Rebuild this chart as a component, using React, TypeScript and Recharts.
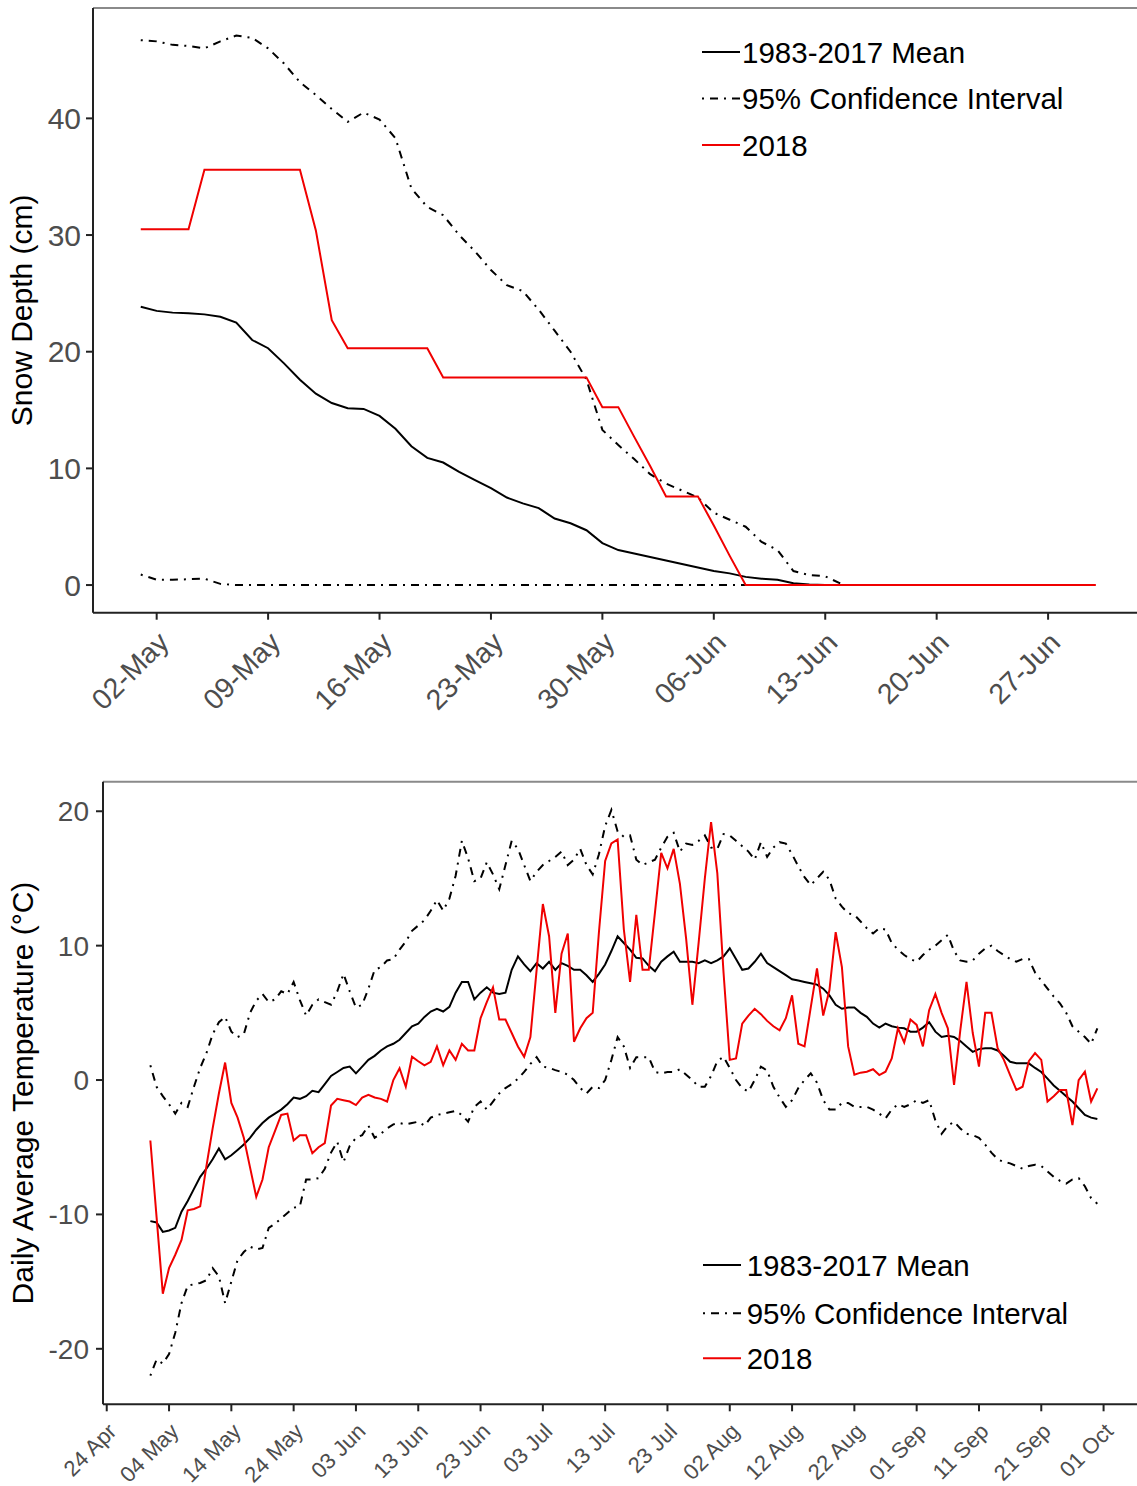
import React from 'react';
import { LineChart, Line, XAxis, YAxis, Legend, ReferenceLine } from 'recharts';

const FONT = 'Arial, "Liberation Sans", Helvetica, sans-serif';
const TICK_COLOR = '#4d4d4d';
const AXIS_COLOR = '#222222';
const BORDER_COLOR = '#8a8a8a';
const RED = '#f00000';
const DASH = '2 6 8 6';

// ---------- Top panel: snow depth (days since 01-May) ----------
const snowTickDays = [1, 8, 15, 22, 29, 36, 43, 50, 57];
const snowTickLabels = ['02-May', '09-May', '16-May', '23-May', '30-May', '06-Jun', '13-Jun', '20-Jun', '27-Jun'];
const snowYTicks = [0, 10, 20, 30, 40];
const snowXDomain = [-3, 63];
const snowYDomain = [-2.37, 49.46];

const snowMean = [23.85, 23.5, 23.35, 23.3, 23.2, 23.0, 22.5, 21.0, 20.3, 19.0, 17.6, 16.4, 15.6, 15.15, 15.1, 14.5, 13.4, 11.9, 10.9, 10.5, 9.7, 9.0, 8.3, 7.5, 7.0, 6.6, 5.7, 5.3, 4.7, 3.6, 3.0, 2.7, 2.4, 2.1, 1.8, 1.5, 1.2, 1.0, 0.7, 0.55, 0.45, 0.15, 0.05, 0, 0];
const snowUpper = [46.7, 46.6, 46.3, 46.2, 46.0, 46.6, 47.1, 46.9, 46.0, 44.7, 43.1, 42.0, 40.8, 39.7, 40.5, 39.9, 38.3, 34.0, 32.4, 31.7, 30.0, 28.6, 27.0, 25.7, 25.2, 23.6, 21.8, 20.0, 17.6, 13.3, 12.0, 10.8, 9.5, 8.7, 8.1, 7.5, 6.2, 5.6, 5.0, 3.7, 3.0, 1.2, 0.86, 0.75, 0.1];
const snowLower = [0.9, 0.45, 0.45, 0.5, 0.55, 0.1, 0, 0, 0, 0, 0, 0, 0, 0, 0, 0, 0, 0, 0, 0, 0, 0, 0, 0, 0, 0, 0, 0, 0, 0, 0, 0, 0, 0, 0, 0, 0, 0, 0, 0, 0, 0, 0, 0, 0];
const snow2018 = [30.5, 30.5, 30.5, 30.5, 35.6, 35.6, 35.6, 35.6, 35.6, 35.6, 35.6, 30.4, 22.7, 20.3, 20.3, 20.3, 20.3, 20.3, 20.3, 17.8, 17.8, 17.8, 17.8, 17.8, 17.8, 17.8, 17.8, 17.8, 17.8, 15.25, 15.25, 12.7, 10.2, 7.6, 7.6, 7.6, 5.1, 2.5, 0, 0, 0, 0, 0, 0, 0, 0, 0, 0, 0, 0, 0, 0, 0, 0, 0, 0, 0, 0, 0, 0, 0];

// ---------- Bottom panel: daily temperature (days since 01-May) ----------
const tempTickDays = [-7, 3, 13, 23, 33, 43, 53, 63, 73, 83, 93, 103, 113, 123, 133, 143, 153];
const tempTickLabels = ['24 Apr', '04 May', '14 May', '24 May', '03 Jun', '13 Jun', '23 Jun', '03 Jul', '13 Jul', '23 Jul', '02 Aug', '12 Aug', '22 Aug', '01 Sep', '11 Sep', '21 Sep', '01 Oct'];
const tempYTicks = [-20, -10, 0, 10, 20];
const tempXDomain = [-7.6, 159.6];
const tempYDomain = [-24.13, 22.2];

const tempMean = [
  -10.5, -10.6, -11.3, -11.2, -11.0, -9.8, -9.0, -8.1, -7.2, -6.6,
  -5.9, -5.1, -5.9, -5.6, -5.2, -4.8, -4.3, -3.7, -3.2, -2.8,
  -2.5, -2.2, -1.8, -1.3, -1.4, -1.2, -0.8, -0.9, -0.3, 0.3,
  0.6, 0.9, 1.0, 0.5, 1.0, 1.5, 1.8, 2.2, 2.5, 2.7,
  3.0, 3.5, 4.0, 4.2, 4.7, 5.1, 5.3, 5.1, 5.45, 6.5,
  7.3, 7.3, 6.0, 6.5, 6.9, 6.5, 6.4, 6.5, 8.2, 9.2,
  8.6, 8.1, 8.7, 8.3, 8.8, 8.2, 8.7, 8.5, 8.2, 8.2,
  7.8, 7.3, 7.9, 8.6, 9.6, 10.7, 10.2, 9.7, 9.1, 9.05,
  8.5, 8.1, 8.8, 9.2, 9.55, 8.8, 8.8, 8.8, 8.7, 8.9,
  8.7, 8.9, 9.2, 9.8, 9.0, 8.2, 8.3, 8.8, 9.4, 8.7,
  8.4, 8.1, 7.8, 7.5, 7.4, 7.3, 7.2, 7.1, 6.8, 6.3,
  5.6, 5.3, 5.4, 5.4, 5.0, 4.7, 4.2, 3.9, 4.2, 4.0,
  3.9, 3.85, 3.6, 3.6, 3.9, 4.3, 3.6, 3.2, 3.3, 3.2,
  2.9, 2.5, 2.1, 2.3, 2.36, 2.36, 2.2, 1.8, 1.36, 1.25,
  1.24, 1.24, 0.9, 0.6, 0.1, -0.4, -0.8, -1.2, -1.6, -2.1,
  -2.6, -2.8, -2.9,
];
const tempUpper = [
  1.1, -0.5, -1.2, -1.8, -2.5, -1.7, -2.0, -0.5, 0.9, 2.0,
  3.4, 4.3, 4.7, 3.6, 3.2, 3.4, 5.0, 5.9, 6.4, 5.8,
  6.0, 6.6, 6.4, 7.3, 5.95, 4.8, 5.6, 6.0, 5.8, 5.6,
  6.6, 7.9, 6.6, 5.4, 5.6, 6.8, 8.2, 8.4, 8.9, 9.0,
  9.7, 10.3, 11.1, 11.5, 11.9, 12.6, 13.4, 12.6, 13.5, 15.2,
  17.8, 16.5, 14.8, 15.0, 16.2, 15.3, 14.2, 16.0, 17.8, 17.2,
  16.0, 14.8, 15.5, 16.0, 16.3, 16.6, 17.0, 16.0, 16.4, 17.2,
  16.0, 15.3, 16.8, 18.9, 20.1, 18.5, 18.1, 18.2, 16.4, 16.0,
  16.2, 16.4, 17.3, 18.1, 18.4, 17.0, 17.6, 17.5, 17.8, 18.2,
  17.3, 17.2, 18.3, 18.2, 17.8, 17.4, 17.0, 16.4, 17.7, 16.6,
  17.3, 17.7, 17.6, 16.8, 15.9, 15.1, 14.5, 15.0, 15.5, 14.9,
  13.5, 12.9, 12.4, 12.3, 11.8, 11.3, 10.9, 11.3, 11.2, 10.2,
  9.7, 9.3, 9.0, 8.8, 9.3, 9.7, 10.0, 10.4, 10.8, 9.6,
  8.9, 8.8, 8.9, 9.4, 9.8, 10.0, 9.6, 9.3, 9.0, 8.8,
  9.0, 9.0, 8.0, 7.4, 6.8, 6.2, 5.7, 5.0, 4.0, 3.6,
  3.2, 2.7, 3.85,
];
const tempLower = [
  -22.0, -20.8, -21.1, -20.4, -18.8, -16.6, -15.3, -15.2, -15.1, -14.9,
  -14.0, -14.6, -16.6, -15.0, -13.4, -12.8, -12.4, -12.6, -12.5, -11.0,
  -10.7, -10.3, -9.9, -9.5, -9.4, -7.4, -7.4, -7.3, -6.6, -5.4,
  -4.6, -6.1, -4.9, -4.3, -4.1, -3.4, -4.3, -4.0, -3.6, -3.3,
  -3.2, -3.3, -3.2, -3.1, -3.4, -2.8, -2.6, -2.5, -2.4, -2.3,
  -2.6, -3.1, -2.0, -1.6, -2.2, -1.6, -1.0, -0.6, -0.3, 0.1,
  0.6, 1.2, 1.7, 1.0, 0.9, 0.74, 0.6, 0.4, 0.0, -0.6,
  -1.0, -0.5, -0.6, 0.0, 1.5, 3.2, 2.5, 0.9, 1.7, 1.7,
  1.7, 0.6, 0.5, 0.6, 0.6, 0.8, 0.4, 0.0, -0.5, -0.5,
  0.3, 1.4, 1.73, 0.9, 0.0, -0.6, -0.87, 0.0, 1.0, 0.7,
  -0.5, -1.3, -2.0, -1.5, -0.6, 0.0, 0.5, -0.2, -1.5, -2.2,
  -2.2, -1.7, -1.7, -2.0, -2.0, -2.0, -2.2, -2.5, -2.85, -2.2,
  -1.8, -2.0, -1.8, -1.5, -1.7, -1.5, -3.0, -4.0, -3.4, -3.1,
  -3.6, -4.0, -4.1, -4.3, -4.8, -5.4, -5.9, -6.1, -6.2, -6.4,
  -6.6, -6.4, -6.3, -6.4, -6.8, -7.2, -7.5, -7.7, -7.4, -7.3,
  -7.9, -8.8, -9.2,
];
const temp2018 = [
  -4.5, -10.2, -15.9, -14.0, -13.0, -11.9, -9.7, -9.6, -9.4, -6.4,
  -3.6, -1.0, 1.3, -1.7, -2.8, -4.3, -6.5, -8.7, -7.4, -5.0,
  -3.8, -2.6, -2.5, -4.5, -4.1, -4.1, -5.45, -5.0, -4.7, -1.9,
  -1.4, -1.5, -1.6, -1.86, -1.3, -1.1, -1.3, -1.4, -1.6, 0.0,
  0.87, -0.5, 1.73, 1.4, 1.1, 1.36, 2.5, 1.1, 2.2, 1.5,
  2.7, 2.2, 2.2, 4.6, 5.8, 6.9, 4.5, 4.5, 3.5, 2.5,
  1.73, 3.2, 8.2, 13.1, 10.7, 5.0, 9.4, 10.9, 2.85, 3.85,
  4.6, 5.0, 11.0, 16.3, 17.6, 17.9, 11.2, 7.3, 12.3, 8.2,
  8.2, 12.5, 16.9, 15.75, 17.2, 14.6, 10.5, 5.6, 10.2, 15.0,
  19.2, 15.4, 8.0, 1.5, 1.6, 4.2, 4.8, 5.3, 4.9, 4.4,
  4.0, 3.7, 4.6, 6.3, 2.7, 2.5, 5.4, 8.3, 4.8, 6.7,
  11.0, 8.4, 2.5, 0.4, 0.55, 0.62, 0.8, 0.37, 0.62, 1.6,
  3.85, 2.8, 4.5, 4.1, 2.5, 5.2, 6.4, 5.0, 3.85, -0.37,
  3.7, 7.3, 3.5, 1.0, 5.0, 5.0, 2.36, 1.5, 0.37, -0.74,
  -0.5, 1.4, 2.0, 1.5, -1.6, -1.2, -0.74, -0.74, -3.35, 0.0,
  0.62, -1.6, -0.62,
];

const legendNames = ['1983-2017 Mean', '95% Confidence Interval', '2018'];
const legendColors = ['#000000', '#000000', RED];
const legendDashes = [undefined, DASH, undefined];

const pick = (arr: number[], i: number) => (i < arr.length ? arr[i] : null);

const snowData = snow2018.map((v, i) => ({
  day: i,
  mean: pick(snowMean, i),
  upper: pick(snowUpper, i),
  lower: pick(snowLower, i),
  y2018: v,
}));

const tempData = temp2018.map((v, i) => ({
  day: i,
  mean: tempMean[i],
  upper: tempUpper[i],
  lower: tempLower[i],
  y2018: v,
}));

const makeXTick = (ticks: number[], labels: string[], dx: number, dy: number, fontSize: number) =>
  (props: any) => {
    const { x, y, payload } = props;
    const idx = ticks.indexOf(payload.value);
    const ax = x + dx;
    const ay = y + dy;
    return (
      <text
        x={ax}
        y={ay}
        transform={`rotate(-45 ${ax} ${ay})`}
        textAnchor="end"
        fontSize={fontSize}
        fill={TICK_COLOR}
        fontFamily={FONT}
      >
        {idx >= 0 ? labels[idx] : ''}
      </text>
    );
  };

const makeYTitle = (text: string, cx: number, fallbackCy: number) => (props: any) => {
  const vb = props && props.viewBox;
  const cy = vb && typeof vb.y === 'number' && typeof vb.height === 'number' ? vb.y + vb.height / 2 : fallbackCy;
  return (
    <text
      x={cx}
      y={cy}
      transform={`rotate(-90 ${cx} ${cy})`}
      textAnchor="middle"
      dominantBaseline="central"
      fontSize={30}
      fill="#000"
      fontFamily={FONT}
    >
      {text}
    </text>
  );
};

const makeLegend = (rowY: number[], lx1: number, lx2: number, tx: number) => () => (
  <svg width={445} height={160} style={{ overflow: 'visible', display: 'block' }}>
    {legendNames.map((name, k) => (
      <g key={name}>
        <line
          x1={lx1}
          x2={lx2}
          y1={rowY[k]}
          y2={rowY[k]}
          stroke={legendColors[k]}
          strokeWidth={2}
          strokeDasharray={legendDashes[k]}
        />
        <text x={tx} y={rowY[k]} dominantBaseline="central" fontSize={29.5} fill="#000" fontFamily={FONT}>
          {name}
        </text>
      </g>
    ))}
  </svg>
);

const axisLineStyle = { stroke: AXIS_COLOR, strokeWidth: 2 };
const tickLineStyle = { stroke: AXIS_COLOR, strokeWidth: 2 };

function SnowChart() {
  return (
    <LineChart width={1150} height={740} data={snowData} margin={{ top: 8, right: 6.4, bottom: 0, left: 0 }}>
      <XAxis
        dataKey="day"
        type="number"
        domain={snowXDomain}
        allowDataOverflow
        ticks={snowTickDays}
        interval={0}
        height={127.3}
        tickSize={7}
        tickMargin={0}
        axisLine={axisLineStyle}
        tickLine={tickLineStyle}
        tick={makeXTick(snowTickDays, snowTickLabels, 14, 24.5, 28.5)}
      />
      <YAxis
        type="number"
        domain={snowYDomain}
        allowDataOverflow
        ticks={snowYTicks}
        interval={0}
        width={93}
        tickSize={7}
        tickMargin={5}
        axisLine={axisLineStyle}
        tickLine={tickLineStyle}
        tick={{ fill: TICK_COLOR, fontSize: 30, fontFamily: FONT }}
        label={{ content: makeYTitle('Snow Depth (cm)', 22, 310) }}
      />
      <ReferenceLine y={snowYDomain[1]} stroke={BORDER_COLOR} strokeWidth={2} ifOverflow="visible" />
      <Legend
        layout="horizontal"
        verticalAlign="middle"
        align="center"
        content={makeLegend([32, 78.5, 125], 12, 50, 52)}
        wrapperStyle={{ left: 690, top: 20, width: 445, height: 160 }}
      />
      <Line dataKey="mean" stroke="#000" strokeWidth={2} dot={false} isAnimationActive={false} type="linear" />
      <Line dataKey="upper" stroke="#000" strokeWidth={2} strokeDasharray={DASH} dot={false} isAnimationActive={false} type="linear" />
      <Line dataKey="lower" stroke="#000" strokeWidth={2} strokeDasharray={DASH} dot={false} isAnimationActive={false} type="linear" />
      <Line dataKey="y2018" stroke={RED} strokeWidth={2} dot={false} isAnimationActive={false} type="linear" />
    </LineChart>
  );
}

function TempChart() {
  return (
    <LineChart width={1150} height={746} data={tempData} margin={{ top: 41.7, right: 5.3, bottom: 0, left: 0 }}>
      <XAxis
        dataKey="day"
        type="number"
        domain={tempXDomain}
        allowDataOverflow
        ticks={tempTickDays}
        interval={0}
        height={81.7}
        tickSize={7}
        tickMargin={0}
        axisLine={axisLineStyle}
        tickLine={tickLineStyle}
        tick={makeXTick(tempTickDays, tempTickLabels, 11, 21.4, 22)}
      />
      <YAxis
        type="number"
        domain={tempYDomain}
        allowDataOverflow
        ticks={tempYTicks}
        interval={0}
        width={103}
        tickSize={7}
        tickMargin={7}
        axisLine={axisLineStyle}
        tickLine={tickLineStyle}
        tick={{ fill: TICK_COLOR, fontSize: 28, fontFamily: FONT }}
        label={{ content: makeYTitle('Daily Average Temperature (°C)', 22, 353) }}
      />
      <ReferenceLine y={tempYDomain[1]} stroke={BORDER_COLOR} strokeWidth={2} ifOverflow="visible" />
      <Legend
        layout="horizontal"
        verticalAlign="middle"
        align="center"
        content={makeLegend([35, 83.3, 128.3], 13, 51, 56.7)}
        wrapperStyle={{ left: 690, top: 490, width: 445, height: 160 }}
      />
      <Line dataKey="mean" stroke="#000" strokeWidth={2} dot={false} isAnimationActive={false} type="linear" />
      <Line dataKey="upper" stroke="#000" strokeWidth={2} strokeDasharray={DASH} dot={false} isAnimationActive={false} type="linear" />
      <Line dataKey="lower" stroke="#000" strokeWidth={2} strokeDasharray={DASH} dot={false} isAnimationActive={false} type="linear" />
      <Line dataKey="y2018" stroke={RED} strokeWidth={2} dot={false} isAnimationActive={false} type="linear" />
    </LineChart>
  );
}

export default function App() {
  return (
    <div
      style={{
        position: 'absolute',
        left: 0,
        top: 0,
        width: 1137,
        height: 1486,
        overflow: 'hidden',
        background: '#ffffff',
        fontFamily: FONT,
      }}
    >
      <div style={{ position: 'absolute', left: 0, top: 0 }}>
        <SnowChart />
      </div>
      <div style={{ position: 'absolute', left: 0, top: 740 }}>
        <TempChart />
      </div>
    </div>
  );
}
